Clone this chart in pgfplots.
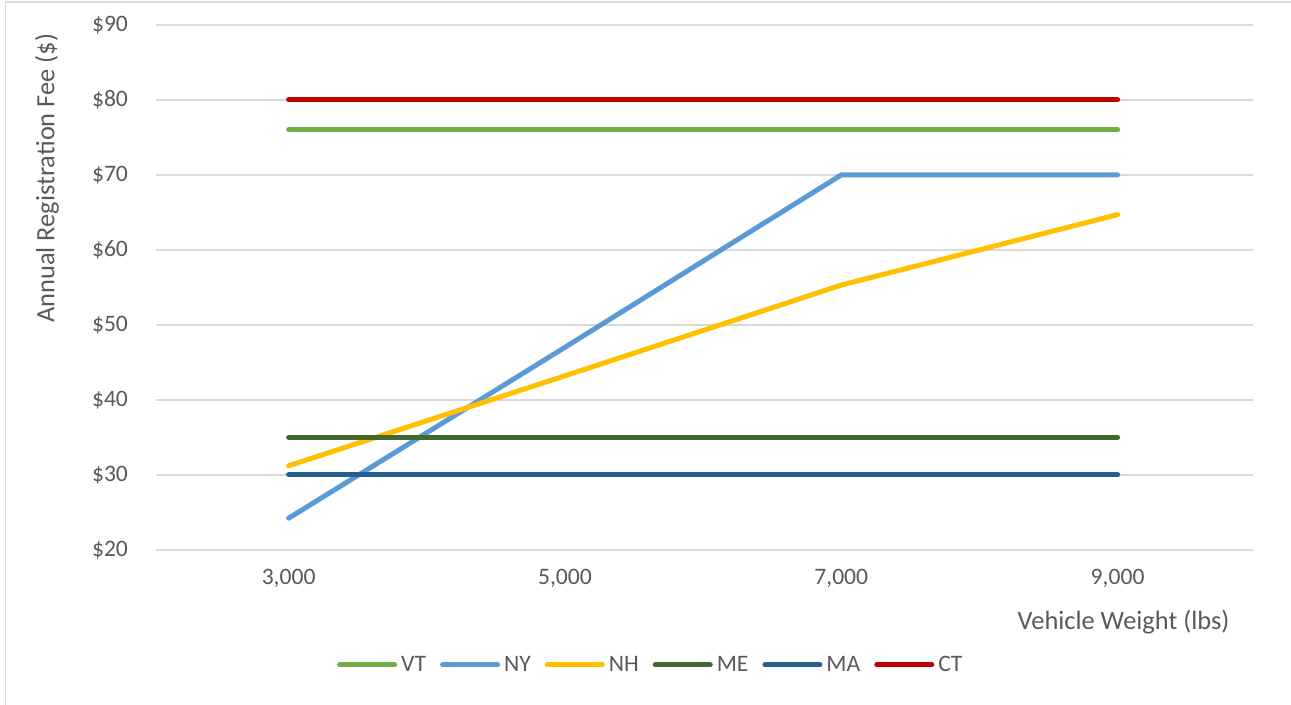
\documentclass[border=0pt]{standalone}
\usepackage{fontspec}
\setmainfont{Carlito}
\usepackage{pgfplots}
\pgfplotsset{compat=1.18}
\definecolor{cVT}{HTML}{70AD47}
\definecolor{cNY}{HTML}{5B9BD5}
\definecolor{cNH}{HTML}{FFC000}
\definecolor{cME}{HTML}{43682B}
\definecolor{cMA}{HTML}{255E91}
\definecolor{cCT}{HTML}{C00000}
\definecolor{gridc}{HTML}{D9D9D9}
\definecolor{textc}{HTML}{595959}
\begin{document}
\begin{tikzpicture}[x=1pt,y=1pt]
\useasboundingbox (0,0) rectangle (645.5,352.5);
\draw[color=gridc, line width=0.75pt] (2.75,0) -- (2.75,351.6) -- (645.5,351.6);
\begin{axis}[
  at={(78pt,77.65pt)}, anchor=south west,
  scale only axis, width=548.5pt, height=262.35pt,
  xmin=-0.48, xmax=3.49, ymin=20, ymax=90,
  xtick={0,1,2,3}, xticklabels={{3,000},{5,000},{7,000},{9,000}},
  ytick={20,30,40,50,60,70,80,90},
  yticklabels={\$20,\$30,\$40,\$50,\$60,\$70,\$80,\$90},
  ymajorgrids, grid style={color=gridc, line width=0.9pt},
  axis line style={draw=none}, major tick length=0pt,
  tick label style={font=\fontsize{11.8}{14}\selectfont, text=textc},
  xticklabel style={yshift=-6pt},
  yticklabel style={xshift=-10.5pt},
  xlabel={Vehicle Weight (lbs)}, ylabel={Annual Registration Fee (\$)},
  label style={font=\fontsize{13.2}{16}\selectfont, text=textc},
  xlabel style={at={(axis description cs:0.882,-0.138)}, anchor=center},
  ylabel style={at={(axis description cs:-0.0994,0.708)}, anchor=center},
  legend columns=6,
  legend style={at={(axis description cs:0.452,-0.2197)}, anchor=center, draw=none, fill=none,
    font=\fontsize{11.8}{14}\selectfont, text=textc,
    /tikz/every even column/.append style={column sep=5pt}},
  legend image code/.code={\draw[#1,line cap=round] (0pt,0pt) -- (27.5pt,0pt);},
  every axis plot/.append style={line width=2.5pt, line cap=round, line join=round},
]
\addplot[cVT] coordinates {(0,76) (1,76) (2,76) (3,76)};
\addplot[cNY] coordinates {(0,24.2) (1,47) (2,70) (3,70)};
\addplot[cNH] coordinates {(0,31.2) (1,43.2) (2,55.3) (3,64.7)};
\addplot[cME] coordinates {(0,35) (1,35) (2,35) (3,35)};
\addplot[cMA] coordinates {(0,30) (1,30) (2,30) (3,30)};
\addplot[cCT] coordinates {(0,80) (1,80) (2,80) (3,80)};
\legend{VT,NY,NH,ME,MA,CT}
\end{axis}
\end{tikzpicture}
\end{document}
